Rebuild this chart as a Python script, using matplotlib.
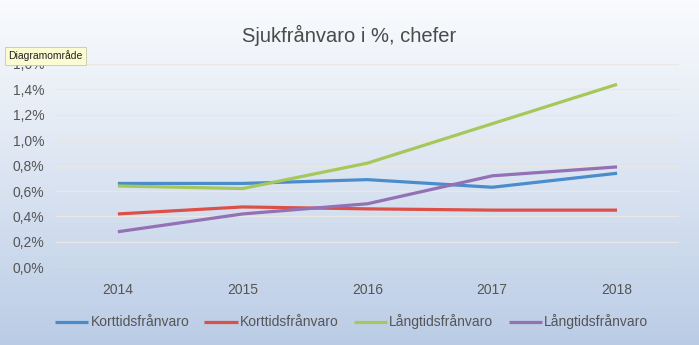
import numpy as np
import matplotlib
matplotlib.use("Agg")
import matplotlib.pyplot as plt
from matplotlib.ticker import FuncFormatter, MultipleLocator

# Data
years = ["2014", "2015", "2016", "2017", "2018"]
kort_1 = [0.66, 0.66, 0.69, 0.63, 0.74]
kort_2 = [0.42, 0.475, 0.46, 0.45, 0.45]
lang_1 = [0.64, 0.62, 0.82, 1.13, 1.44]
lang_2 = [0.28, 0.42, 0.50, 0.72, 0.79]
series_names = ["Korttidsfrånvaro", "Korttidsfrånvaro", "Långtidsfrånvaro", "Långtidsfrånvaro"]
colors = ["#4a8ccc", "#dc5048", "#a6c75a", "#9470b4"]

plt.rcParams['font.family'] = ['Liberation Sans', 'DejaVu Sans']
text_col = "#555555"

fig = plt.figure(figsize=(6.99, 3.45), dpi=100)

# Background gradient over the whole figure
bg = fig.add_axes([0, 0, 1, 1], zorder=-10)
grad = np.linspace(0, 1, 256).reshape(-1, 1)
top = np.array([0.975, 0.982, 0.992])
bottom = np.array([0.73, 0.80, 0.90])
img = top + (bottom - top) * grad[..., None] ** 1.1
bg.imshow(img, aspect='auto', extent=[0, 1, 0, 1])
bg.axis('off')

ax = fig.add_axes([0.0794, 0.2252, 0.8926, 0.5893])
ax.patch.set_alpha(0)
x = np.arange(len(years))
for vals, name, c in zip([kort_1, kort_2, lang_1, lang_2], series_names, colors):
    ax.plot(x, np.array(vals) / 100, color=c, lw=2.3, label=name, solid_capstyle='butt')

ax.set_xlim(-0.5, len(years) - 0.5)
ax.set_ylim(0, 0.016)
ax.yaxis.set_major_locator(MultipleLocator(0.002))
ax.yaxis.set_major_formatter(FuncFormatter(lambda v, p: f"{v*100:.1f}%".replace('.', ',')))
ax.set_xticks(x)
ax.set_xticklabels(years)
ax.tick_params(axis='both', length=0, labelsize=10, colors=text_col)
ax.tick_params(axis='y', pad=8)
ax.tick_params(axis='x', pad=11)
ax.grid(axis='y', color='#ebe7e3', lw=0.9)
ax.set_axisbelow(True)
for s in ax.spines.values():
    s.set_visible(False)

fig.text(0.5, 1 - 35 / 345, "Sjukfrånvaro i %, chefer", ha='center', va='center',
         fontsize=14.5, color='#4a4a4a')

fig.legend(loc='center', bbox_to_anchor=(0.503, 1 - 322 / 345), ncol=4, frameon=False,
           fontsize=10, handlelength=2.4, handletextpad=0.15, columnspacing=1.1,
           labelcolor=text_col)

# Tooltip overlay from the screenshot
fig.text(8 / 699, 1 - 56 / 345, "Diagramområde", ha='left', va='center', fontsize=7.5,
         color='#222222',
         bbox=dict(boxstyle='square,pad=0.3', fc='#fcfcd2', ec='#c8c8a8', lw=0.6))

fig.savefig("out.png", dpi=100)
